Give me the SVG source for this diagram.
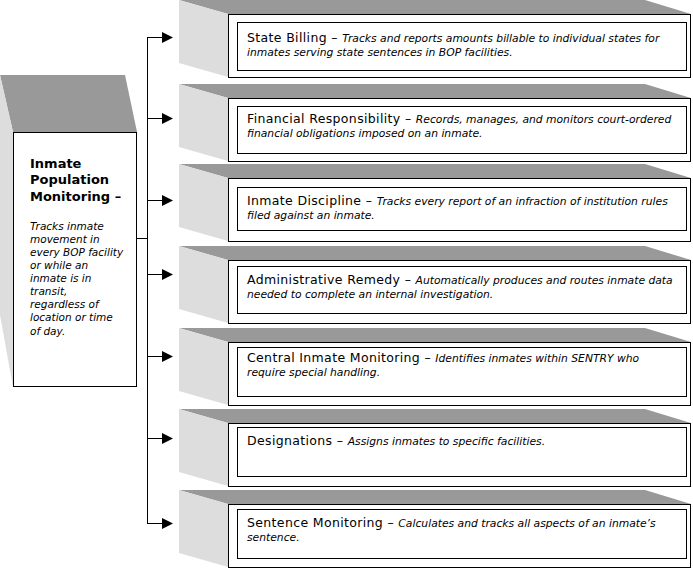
<svg xmlns="http://www.w3.org/2000/svg" width="693" height="568" viewBox="0 0 693 568">
<style>
.top{fill:#999999}
.side{fill:#dddddd}
.front{fill:#ffffff;stroke:#000;stroke-width:1}
.inner{fill:#ffffff;stroke:#000;stroke-width:1}
.t{font-family:"DejaVu Sans",Verdana,sans-serif;font-size:12.5px;letter-spacing:0.35px;fill:#000}
.d{font-family:"DejaVu Sans",Verdana,sans-serif;font-size:10.75px;font-style:italic;fill:#000}
.lt{font-family:"DejaVu Sans",Verdana,sans-serif;font-size:13px;font-weight:bold;fill:#000}
.ld{font-family:"DejaVu Sans",Verdana,sans-serif;font-size:10.5px;font-style:italic;fill:#000}
.conn{stroke:#000;stroke-width:1;fill:none}
</style>
<defs>
<marker id="arr" markerWidth="11" markerHeight="11" refX="10" refY="5.5" orient="auto" markerUnits="userSpaceOnUse">
<path d="M0,0 L11,5.5 L0,11 Z" fill="#000"/>
</marker>
<g id="box3d">
<polygon class="top" points="179,0 645,0 691,14 228,14"/>
<polygon class="side" points="179,0 228,14 228,77 179,63"/>
<rect class="front" x="228.5" y="14.5" width="462" height="63"/>
</g>
</defs>

<g id="inmate-population-monitoring">
<polygon class="top" points="0,75 125,75 137,132 13,132"/>
<polygon class="side" points="0,75 13,132 13,387 0,315"/>
<rect class="front" x="13.5" y="132.5" width="123" height="254"/>
<text class="lt" x="30" y="168">Inmate</text>
<text class="lt" x="30" y="184">Population</text>
<text class="lt" x="30" y="201">Monitoring –</text>
<text class="ld" x="30" y="230">Tracks inmate</text>
<text class="ld" x="30" y="243">movement in</text>
<text class="ld" x="30" y="256">every BOP facility</text>
<text class="ld" x="30" y="269">or while an</text>
<text class="ld" x="30" y="282">inmate is in</text>
<text class="ld" x="30" y="295">transit,</text>
<text class="ld" x="30" y="308">regardless of</text>
<text class="ld" x="30" y="321">location or time</text>
<text class="ld" x="30" y="335">of day.</text>
</g>

<g id="connectors">
<line class="conn" x1="137" y1="238.5" x2="147.5" y2="238.5"/>
<line class="conn" x1="147.5" y1="37" x2="147.5" y2="524"/>
<line class="conn" x1="147" y1="37.5" x2="172" y2="37.5" marker-end="url(#arr)"/>
<line class="conn" x1="147" y1="118.5" x2="172" y2="118.5" marker-end="url(#arr)"/>
<line class="conn" x1="147" y1="200.5" x2="172" y2="200.5" marker-end="url(#arr)"/>
<line class="conn" x1="147" y1="274.5" x2="172" y2="274.5" marker-end="url(#arr)"/>
<line class="conn" x1="147" y1="356.5" x2="172" y2="356.5" marker-end="url(#arr)"/>
<line class="conn" x1="147" y1="438.5" x2="172" y2="438.5" marker-end="url(#arr)"/>
<line class="conn" x1="147" y1="523.5" x2="172" y2="523.5" marker-end="url(#arr)"/>
</g>

<g id="state-billing">
<use href="#box3d" transform="translate(0,0)"/>
<rect class="inner" x="237.5" y="22.5" width="449" height="48"/>
<text x="247" y="42"><tspan class="t">State Billing – </tspan><tspan class="d">Tracks and reports amounts billable to individual states for</tspan></text>
<text class="d" x="247" y="56">inmates serving state sentences in BOP facilities.</text>
</g>

<g id="financial-responsibility">
<use href="#box3d" transform="translate(0,84)"/>
<rect class="inner" x="237.5" y="106.5" width="449" height="47"/>
<text x="247" y="123"><tspan class="t">Financial Responsibility – </tspan><tspan class="d">Records, manages, and monitors court-ordered</tspan></text>
<text class="d" x="247" y="137">financial obligations imposed on an inmate.</text>
</g>

<g id="inmate-discipline">
<use href="#box3d" transform="translate(0,164)"/>
<rect class="inner" x="237.5" y="187.5" width="449" height="43"/>
<text x="247" y="205"><tspan class="t">Inmate Discipline – </tspan><tspan class="d">Tracks every report of an infraction of institution rules</tspan></text>
<text class="d" x="247" y="219">filed against an inmate.</text>
</g>

<g id="administrative-remedy">
<use href="#box3d" transform="translate(0,246)"/>
<rect class="inner" x="237.5" y="266.5" width="449" height="47"/>
<text x="247" y="284"><tspan class="t">Administrative Remedy – </tspan><tspan class="d">Automatically produces and routes inmate data</tspan></text>
<text class="d" x="247" y="298">needed to complete an internal investigation.</text>
</g>

<g id="central-inmate-monitoring">
<use href="#box3d" transform="translate(0,328)"/>
<rect class="inner" x="237.5" y="347.5" width="449" height="49"/>
<text x="247" y="362"><tspan class="t">Central Inmate Monitoring – </tspan><tspan class="d">Identifies inmates within SENTRY who</tspan></text>
<text class="d" x="247" y="376">require special handling.</text>
</g>

<g id="designations">
<use href="#box3d" transform="translate(0,409)"/>
<rect class="inner" x="237.5" y="427.5" width="449" height="49"/>
<text x="247" y="445"><tspan class="t">Designations – </tspan><tspan class="d">Assigns inmates to specific facilities.</tspan></text>
</g>

<g id="sentence-monitoring">
<use href="#box3d" transform="translate(0,490)"/>
<rect class="inner" x="237.5" y="509.5" width="449" height="49"/>
<text x="247" y="527"><tspan class="t">Sentence Monitoring – </tspan><tspan class="d">Calculates and tracks all aspects of an inmate’s</tspan></text>
<text class="d" x="247" y="541">sentence.</text>
</g>
</svg>
